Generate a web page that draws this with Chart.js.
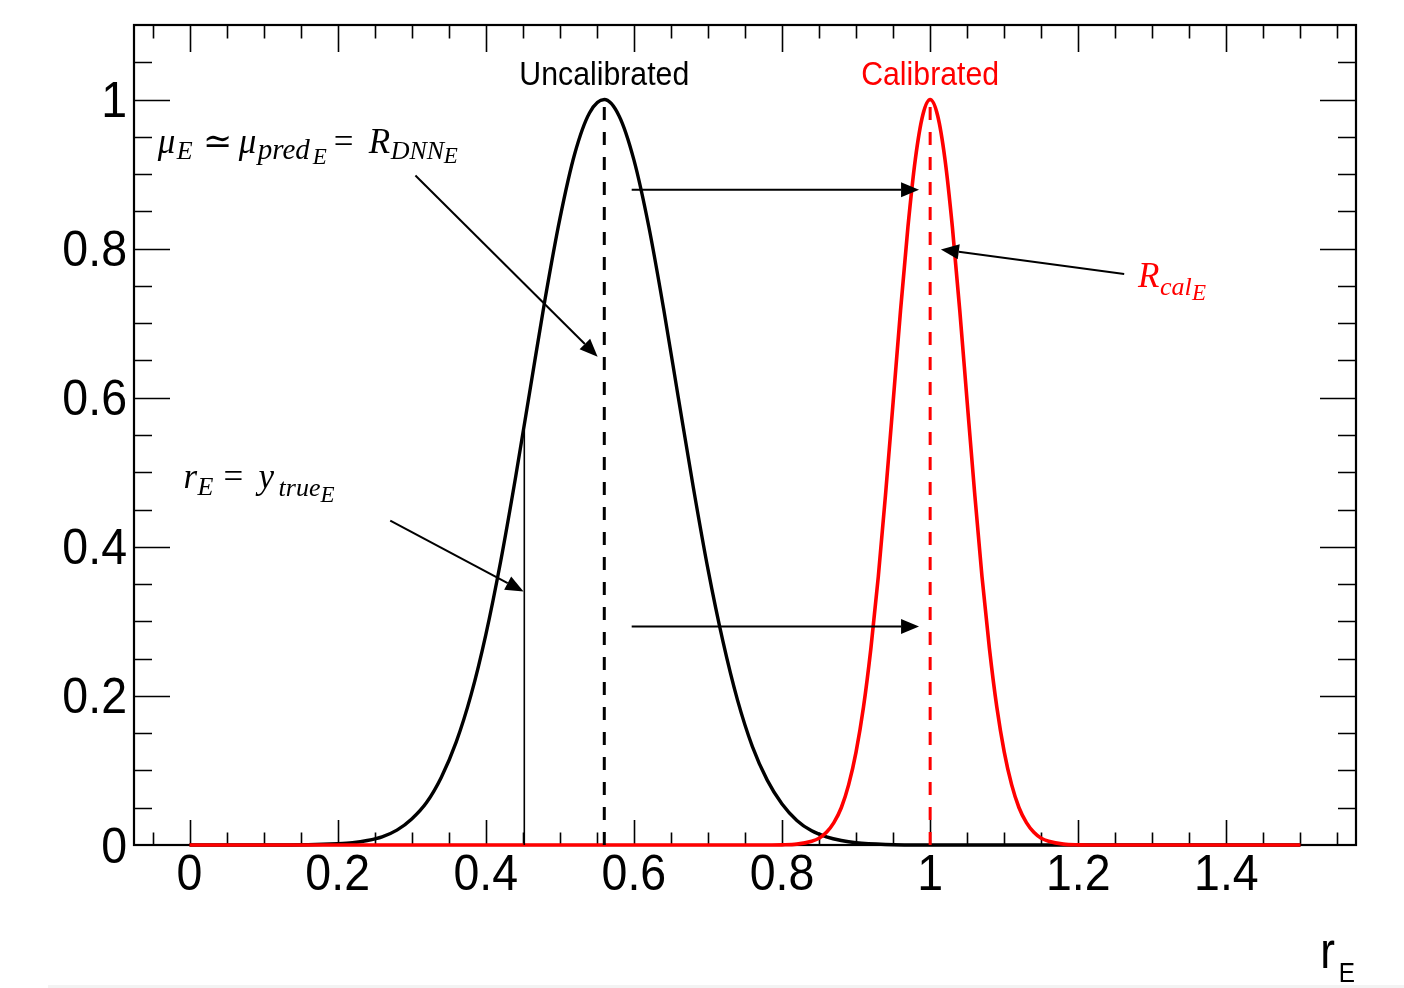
<!DOCTYPE html>
<html>
<head>
<meta charset="utf-8">
<script src="https://cdn.jsdelivr.net/npm/chart.js@4"></script>
<style>
  html, body { margin: 0; padding: 0; background: #ffffff; }
  #wrap { width: 1404px; height: 988px; }
</style>
</head>
<body>
<div id="wrap"><canvas id="grafico" width="1404" height="988"></canvas></div>
<script>
// curva nao calibrada (preta)
const uncalX = [0, 0.10, 0.16, 0.20, 0.22, 0.24, 0.26, 0.28, 0.30, 0.32, 0.34, 0.36, 0.38, 0.40, 0.42, 0.44, 0.46, 0.48, 0.50, 0.52, 0.54, 0.56, 0.58, 0.60, 0.62, 0.64, 0.66, 0.68, 0.70, 0.72, 0.74, 0.76, 0.78, 0.80, 0.82, 0.84, 0.86, 0.88, 0.90, 0.94, 1.00, 1.50];
const uncalY = [0, 0, 0.0003, 0.0016, 0.003, 0.006, 0.011, 0.020, 0.035, 0.057, 0.091, 0.138, 0.201, 0.282, 0.380, 0.492, 0.612, 0.732, 0.840, 0.927, 0.982, 1.0, 0.978, 0.919, 0.830, 0.720, 0.600, 0.481, 0.370, 0.274, 0.194, 0.132, 0.087, 0.055, 0.033, 0.019, 0.011, 0.006, 0.003, 0.0007, 0, 0];

// curva calibrada (vermelha)
const calX = [0, 0.78, 0.80, 0.82, 0.84, 0.85, 0.86, 0.87, 0.88, 0.89, 0.90, 0.91, 0.92, 0.93, 0.94, 0.95, 0.96, 0.97, 0.98, 0.99, 1.00, 1.01, 1.02, 1.03, 1.04, 1.05, 1.06, 1.07, 1.08, 1.09, 1.10, 1.11, 1.12, 1.13, 1.14, 1.15, 1.16, 1.18, 1.20, 1.22, 1.50];
const calY = [0, 0, 0.0002, 0.0012, 0.005, 0.009, 0.017, 0.030, 0.050, 0.081, 0.125, 0.185, 0.264, 0.360, 0.473, 0.594, 0.717, 0.829, 0.920, 0.979, 1.0, 0.979, 0.920, 0.829, 0.717, 0.594, 0.473, 0.360, 0.264, 0.185, 0.125, 0.081, 0.050, 0.030, 0.017, 0.009, 0.005, 0.0012, 0.0002, 0, 0];

// linhas verticais
const muPred = 0.56;       // R_DNN
const rTrue = 0.452;       // y_true
const rTrueTop = 0.557;
const rCal = 1.0;
const peakY = 1.0;

// eixos
const xTicks = [0, 0.2, 0.4, 0.6, 0.8, 1.0, 1.2, 1.4];
const xTickLabels = ['0', '0.2', '0.4', '0.6', '0.8', '1', '1.2', '1.4'];
const yTicks = [0, 0.2, 0.4, 0.6, 0.8, 1.0];
const yTickLabels = ['0', '0.2', '0.4', '0.6', '0.8', '1'];

// setas (coordenadas de dados: de -> para)
const setas = [
  [0.597, 0.879, 0.985, 0.879],
  [0.597, 0.293, 0.985, 0.293],
  [0.305, 0.898, 0.551, 0.655],
  [0.271, 0.435, 0.451, 0.340],
  [1.262, 0.766, 1.0145, 0.799]
];

function pts(xs, ys) {
  return xs.map((x, i) => ({ x: x, y: ys[i] }));
}

function texto(ctx, str, x, y, font, cor, align, sx) {
  ctx.save();
  ctx.font = font;
  ctx.fillStyle = cor;
  ctx.textAlign = align;
  ctx.textBaseline = 'alphabetic';
  ctx.translate(x, y);
  ctx.scale(sx, 1);
  ctx.fillText(str, 0, 0);
  ctx.restore();
}

// desenha formula em pedacos [texto, dx, dy, tamanho, italico]
function formula(ctx, partes, x, y, cor) {
  partes.forEach(p => {
    const estilo = p[4] ? 'italic ' : '';
    texto(ctx, p[0], x + p[1], y + p[2], estilo + p[3] + 'px "Liberation Serif", "DejaVu Serif", serif', cor, 'left', 1);
  });
}

function seta(ctx, x1, y1, x2, y2) {
  const ang = Math.atan2(y2 - y1, x2 - x1);
  const L = 18, W = 7.5;
  const bx = x2 - L * Math.cos(ang), by = y2 - L * Math.sin(ang);
  ctx.save();
  ctx.strokeStyle = '#000';
  ctx.fillStyle = '#000';
  ctx.lineWidth = 2;
  ctx.beginPath();
  ctx.moveTo(x1, y1);
  ctx.lineTo(bx, by);
  ctx.stroke();
  ctx.beginPath();
  ctx.moveTo(x2, y2);
  ctx.lineTo(bx + W * Math.sin(ang), by - W * Math.cos(ang));
  ctx.lineTo(bx - W * Math.sin(ang), by + W * Math.cos(ang));
  ctx.closePath();
  ctx.fill();
  ctx.restore();
}

const moldura = {
  id: 'moldura',
  beforeDatasetsDraw(chart) {
    const ctx = chart.ctx;
    const a = chart.chartArea;
    const sx = chart.scales.x, sy = chart.scales.y;
    const px = v => sx.getPixelForValue(v);
    const py = v => sy.getPixelForValue(v);

    ctx.save();
    ctx.strokeStyle = '#000';
    ctx.lineWidth = 1.6;
    ctx.beginPath();
    // ticks x (baixo e topo)
    for (let v = -0.05; v <= 1.5501; v += 0.05) {
      const major = Math.abs(v / 0.2 - Math.round(v / 0.2)) < 1e-6;
      const p = Math.round(px(v)) + 0.5;
      ctx.moveTo(p, a.bottom);
      ctx.lineTo(p, a.bottom - (major ? 25 : 12.5));
      ctx.moveTo(p, a.top);
      ctx.lineTo(p, a.top + (major ? 27 : 13.5));
    }
    // ticks y (esquerda e direita)
    for (let v = 0.05; v <= 1.0501; v += 0.05) {
      const major = Math.abs(v / 0.2 - Math.round(v / 0.2)) < 1e-6;
      const p = Math.round(py(v)) + 0.5;
      ctx.moveTo(a.left, p);
      ctx.lineTo(a.left + (major ? 36 : 18), p);
      ctx.moveTo(a.right, p);
      ctx.lineTo(a.right - (major ? 36 : 18), p);
    }
    ctx.stroke();

    ctx.lineWidth = 2.2;
    ctx.strokeRect(a.left, a.top, a.right - a.left, a.bottom - a.top);
    ctx.restore();
  },
  afterDraw(chart) {
    const ctx = chart.ctx;
    const a = chart.chartArea;
    const sx = chart.scales.x, sy = chart.scales.y;
    const px = v => sx.getPixelForValue(v);
    const py = v => sy.getPixelForValue(v);

    // rotulos dos eixos
    const fonteEixo = '50px "Liberation Sans", Arial, sans-serif';
    xTicks.forEach((v, i) => texto(ctx, xTickLabels[i], px(v), a.bottom + 45, fonteEixo, '#000', 'center', 0.93));
    yTicks.forEach((v, i) => texto(ctx, yTickLabels[i], a.left - 7, py(v) + 17.5, fonteEixo, '#000', 'right', 0.93));

    // titulo do eixo x
    texto(ctx, 'r', 1335, 968, '52px "Liberation Sans", Arial, sans-serif', '#000', 'right', 0.85);
    texto(ctx, 'E', 1355, 982, '27px "Liberation Sans", Arial, sans-serif', '#000', 'right', 0.9);

    // titulos das curvas
    texto(ctx, 'Uncalibrated', px(muPred), py(1.019), '34px "Liberation Sans", Arial, sans-serif', '#000', 'center', 0.89);
    texto(ctx, 'Calibrated', px(rCal), py(1.019), '34px "Liberation Sans", Arial, sans-serif', '#ff0000', 'center', 0.89);

    // setas
    setas.forEach(s => seta(ctx, px(s[0]), py(s[1]), px(s[2]), py(s[3])));

    // formulas
    formula(ctx, [
      ['\u03bc', 0, 0, 35, true], ['E', 19, 6, 26, true], ['\u2243', 45, 0, 35, false],
      ['\u03bc', 81, 0, 35, true], ['pred', 100, 6, 29, true], ['E', 155, 11, 23, true],
      ['=', 176, 0, 35, false], ['R', 211, 0, 35, true], ['DNN', 233, 6, 26, true], ['E', 286, 10, 23, true]
    ], px(-0.043), py(0.928), '#000');

    formula(ctx, [
      ['r', 0, 0, 35, true], ['E', 14, 7, 26, true], ['=', 40, 0, 35, false],
      ['y', 75, 0, 35, true], ['true', 95, 8, 26, true], ['E', 137, 14, 23, true]
    ], px(-0.008), py(0.479), '#000');

    formula(ctx, [
      ['R', 0, 0, 35, true], ['cal', 22, 8, 26, true], ['E', 54, 13, 23, true]
    ], px(1.2807), py(0.749), '#ff0000');

    // faixa cinza no rodape
    ctx.fillStyle = '#f3f3f3';
    ctx.fillRect(48, 985, 1356, 3);
  }
};

const ctx = document.getElementById('grafico').getContext('2d');

const grafico = new Chart(ctx, {
  type: 'scatter',
  data: {
    datasets: [
      {
        label: 'Calibrated',
        data: pts(calX, calY),
        showLine: true,
        borderColor: '#ff0000',
        borderWidth: 3.6,
        pointRadius: 0,
        cubicInterpolationMode: 'monotone',
        clip: false,
        order: 1
      },
      {
        label: 'Uncalibrated',
        data: pts(uncalX, uncalY),
        showLine: true,
        borderColor: '#000000',
        borderWidth: 3.4,
        pointRadius: 0,
        cubicInterpolationMode: 'monotone',
        clip: false,
        order: 2
      },
      {
        label: 'R_DNN',
        data: [{ x: muPred, y: 0 }, { x: muPred, y: peakY }],
        showLine: true,
        borderColor: '#000000',
        borderWidth: 3,
        borderDash: [13, 12],
        pointRadius: 0,
        clip: false,
        order: 0
      },
      {
        label: 'R_cal',
        data: [{ x: rCal, y: 0 }, { x: rCal, y: peakY }],
        showLine: true,
        borderColor: '#ff0000',
        borderWidth: 3,
        borderDash: [13, 12],
        pointRadius: 0,
        clip: false,
        order: 0
      },
      {
        label: 'y_true',
        data: [{ x: rTrue, y: 0 }, { x: rTrue, y: rTrueTop }],
        showLine: true,
        borderColor: '#000000',
        borderWidth: 1.6,
        pointRadius: 0,
        clip: false,
        order: 0
      }
    ]
  },
  options: {
    responsive: false,
    animation: false,
    layout: { padding: { left: 134, top: 25, right: 48, bottom: 143 } },
    plugins: { legend: { display: false }, tooltip: { enabled: false } },
    scales: {
      x: { type: 'linear', min: -0.075, max: 1.575, display: false },
      y: { type: 'linear', min: 0, max: 1.1, display: false }
    }
  },
  plugins: [moldura]
});
</script>
</body>
</html>
